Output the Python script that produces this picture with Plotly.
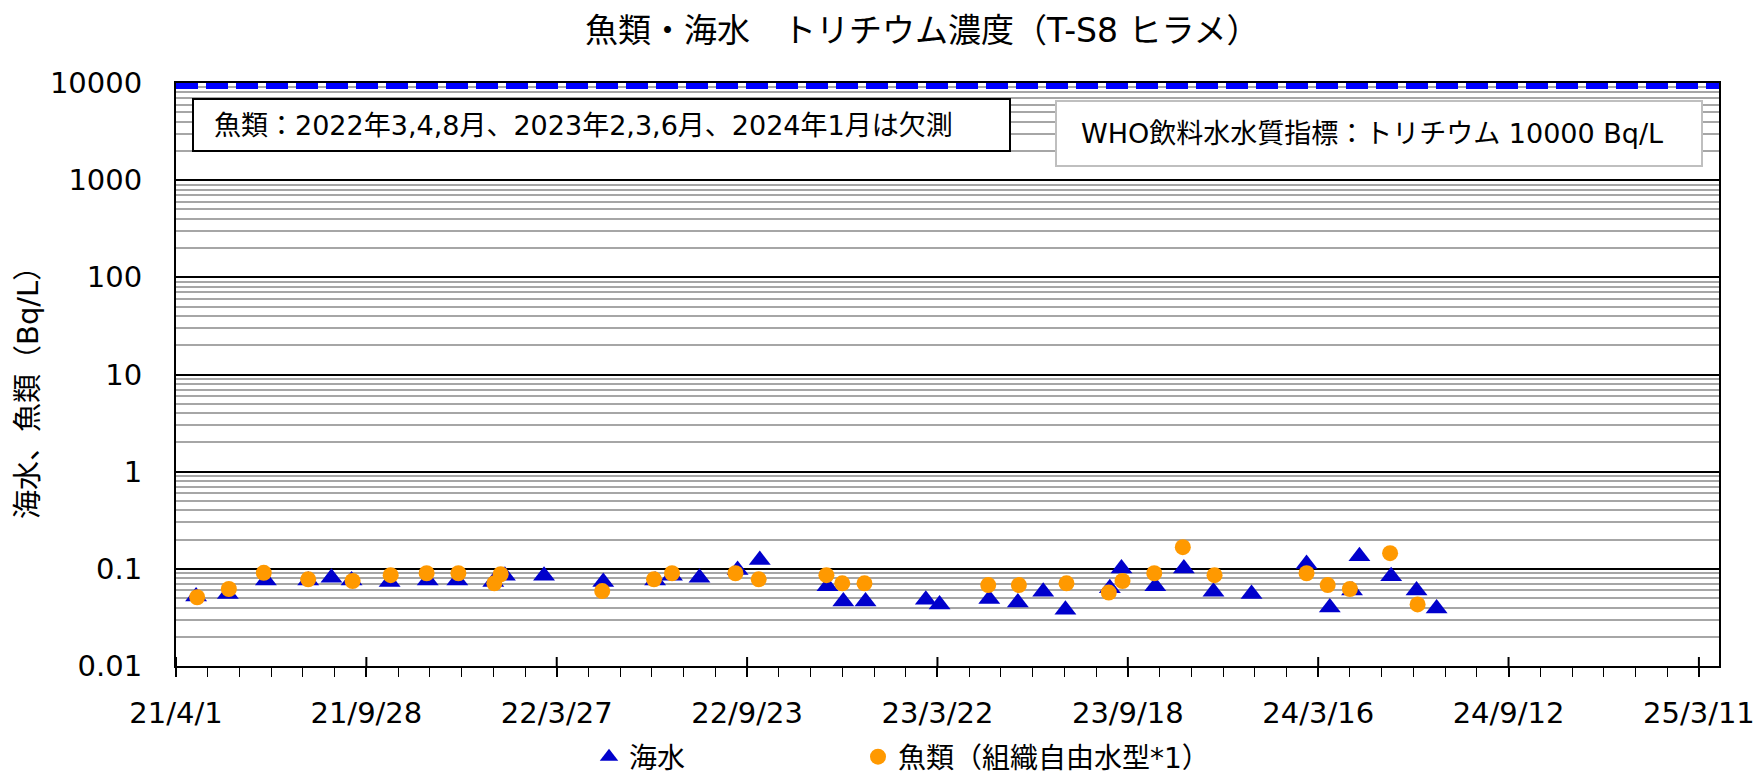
import plotly.graph_objects as go

# ---- data -------------------------------------------------------------
sea_dates = [
    "2021-04-20", "2021-05-20", "2021-06-25", "2021-08-04", "2021-08-26",
    "2021-09-14", "2021-10-20", "2021-11-25", "2021-12-23", "2022-01-26",
    "2022-02-06", "2022-03-15", "2022-05-10", "2022-06-28", "2022-07-14",
    "2022-08-09", "2022-09-14", "2022-10-05", "2022-12-08", "2022-12-23",
    "2023-01-13", "2023-03-11", "2023-03-24", "2023-05-10", "2023-06-06",
    "2023-06-30", "2023-07-21", "2023-09-01", "2023-09-12", "2023-10-14",
    "2023-11-10", "2023-12-08", "2024-01-13", "2024-03-05", "2024-03-27",
    "2024-04-17", "2024-04-24", "2024-05-24", "2024-06-17", "2024-07-06",
]
sea_values = [
    0.052, 0.055, 0.076, 0.076, 0.081,
    0.076, 0.073, 0.076, 0.076, 0.073,
    0.085, 0.085, 0.073, 0.076, 0.085,
    0.081, 0.097, 0.123, 0.066, 0.046,
    0.046, 0.048, 0.043, 0.049, 0.045,
    0.058, 0.038, 0.063, 0.101, 0.066,
    0.101, 0.058, 0.055, 0.112, 0.040,
    0.060, 0.135, 0.084, 0.060, 0.039,
]

fish_dates = [
    "2021-04-21", "2021-05-21", "2021-06-23", "2021-08-04", "2021-09-15",
    "2021-10-21", "2021-11-24", "2021-12-24", "2022-01-27", "2022-02-02",
    "2022-05-09", "2022-06-27", "2022-07-14", "2022-09-12", "2022-10-04",
    "2022-12-07", "2022-12-22", "2023-01-12", "2023-05-09", "2023-06-07",
    "2023-07-22", "2023-08-31", "2023-09-13", "2023-10-13", "2023-11-09",
    "2023-12-09", "2024-03-05", "2024-03-25", "2024-04-15", "2024-05-23",
    "2024-06-18",
]
fish_values = [
    0.051, 0.062, 0.091, 0.078, 0.075,
    0.086, 0.090, 0.090, 0.071, 0.088,
    0.059, 0.078, 0.090, 0.090, 0.078,
    0.086, 0.071, 0.071, 0.068, 0.068,
    0.071, 0.057, 0.075, 0.090, 0.167,
    0.086, 0.090, 0.068, 0.062, 0.145,
    0.043,
]

who_limit = 10000  # WHO drinking-water guideline for tritium (Bq/L)

x_tick_dates = ["2021-04-01", "2021-09-28", "2022-03-27", "2022-09-23", "2023-03-22",
                "2023-09-18", "2024-03-16", "2024-09-12", "2025-03-11"]
x_tick_labels = ["21/4/1", "21/9/28", "22/3/27", "22/9/23", "23/3/22",
                 "23/9/18", "24/3/16", "24/9/12", "25/3/11"]
x_range = ["2021-04-01", "2025-03-30"]

y_tick_vals = [0.01, 0.1, 1, 10, 100, 1000, 10000]
y_tick_labels = ["0.01", "0.1", "1", "10", "100", "1000", "10000"]

title_text = "魚類・海水　トリチウム濃度（T-S8 ヒラメ）"
y_title = "海水、魚類（Bq/L）"
note_missing = "魚類：2022年3,4,8月、2023年2,3,6月、2024年1月は欠測"
note_who = "WHO飲料水水質指標：トリチウム 10000 Bq/L"
sea_name = "海水"
fish_name = "魚類（組織自由水型*1）"

# ---- figure -----------------------------------------------------------
FONT = "DejaVu Sans, Noto Sans CJK JP, sans-serif"
W, H = 1756, 779
L, R, T, B = 176, 37, 83, 113
PW, PH = W - L - R, H - T - B


def px_x(p):
    return (p - L) / PW


def px_y(p):
    return (H - B - p) / PH


fig = go.Figure()

fig.add_trace(go.Scatter(
    x=sea_dates, y=sea_values, mode="markers", name=sea_name, legend="legend",
    marker=dict(symbol="triangle-up", size=19, color="#0000CC", line=dict(width=0)),
    cliponaxis=False,
))
fig.add_trace(go.Scatter(
    x=fish_dates, y=fish_values, mode="markers", name=fish_name, legend="legend2",
    marker=dict(symbol="circle", size=16, color="#FF9900", line=dict(width=0)),
    cliponaxis=False,
))

shapes = []
# WHO guideline level
shapes.append(dict(type="line", xref="paper", yref="y", x0=0, x1=1,
                   y0=who_limit, y1=who_limit,
                   line=dict(color="#0000FF", width=12, dash="22px,8px"), layer="above"))
# inner half of the major x ticks (they cross the axis)
for d in x_tick_dates:
    shapes.append(dict(type="line", xref="x", yref="paper", x0=d, x1=d,
                       ysizemode="pixel", yanchor=0, y0=0, y1=9,
                       line=dict(color="black", width=2), layer="above"))
# note boxes
shapes.append(dict(type="rect", xref="paper", yref="paper",
                   x0=px_x(193), x1=px_x(1010), y0=px_y(151), y1=px_y(99),
                   line=dict(color="black", width=2), fillcolor="white", layer="above"))
shapes.append(dict(type="rect", xref="paper", yref="paper",
                   x0=px_x(1056), x1=px_x(1702), y0=px_y(166), y1=px_y(101),
                   line=dict(color="#BFBFBF", width=2), fillcolor="white", layer="above"))

annotations = [
    dict(text=note_missing, xref="paper", yref="paper", x=px_x(212), y=px_y(125),
         xanchor="left", yanchor="middle", showarrow=False,
         font=dict(family=FONT, size=27, color="black")),
    dict(text=note_who, xref="paper", yref="paper", x=px_x(1372), y=px_y(133),
         xanchor="center", yanchor="middle", showarrow=False,
         font=dict(family=FONT, size=27, color="black")),
    dict(text=y_title, xref="paper", yref="paper", x=px_x(28), y=px_y(386),
         xanchor="center", yanchor="middle", textangle=-90, showarrow=False,
         font=dict(family=FONT, size=29, color="black")),
    dict(text=title_text, xref="paper", yref="paper", x=px_x(922), y=px_y(30),
         xanchor="center", yanchor="middle", showarrow=False,
         font=dict(family=FONT, size=33, color="black")),
]

legend_common = dict(orientation="h", yanchor="middle", y=px_y(757),
                     font=dict(family=FONT, size=28, color="black"),
                     bgcolor="rgba(0,0,0,0)", itemsizing="trace")

fig.update_layout(
    width=W, height=H,
    margin=dict(l=L, r=R, t=T, b=B, autoexpand=False),
    paper_bgcolor="white", plot_bgcolor="white",
    font=dict(family=FONT, size=28, color="black"),
    shapes=shapes, annotations=annotations,
    showlegend=True,
    legend=dict(x=px_x(589), xanchor="left", **legend_common),
    legend2=dict(x=px_x(858), xanchor="left", **legend_common),
)

fig.update_xaxes(
    type="date", range=x_range,
    tickmode="array", tickvals=x_tick_dates, ticktext=x_tick_labels,
    ticks="outside", ticklen=9, tickwidth=2, tickcolor="black",
    ticklabelstandoff=11,
    tickfont=dict(family=FONT, size=29, color="black"),
    showgrid=False, zeroline=False,
    showline=True, linecolor="black", linewidth=2, mirror=True,
    minor=dict(ticks="outside", ticklen=9, tickwidth=1, tickcolor="black",
               tick0="2021-04-01", dtick=30 * 86400000, showgrid=False),
)

fig.update_yaxes(
    type="log", range=[-2, 4],
    tickmode="array", tickvals=y_tick_vals, ticktext=y_tick_labels,
    ticks="", ticklabelstandoff=26,
    tickfont=dict(family=FONT, size=29, color="black"),
    showgrid=True, gridcolor="black", gridwidth=2,
    zeroline=False,
    showline=True, linecolor="black", linewidth=2, mirror=True,
    minor=dict(dtick="D1", showgrid=True, gridcolor="#A6A6A6", gridwidth=2, ticks=""),
)

fig.write_html("out.html")
